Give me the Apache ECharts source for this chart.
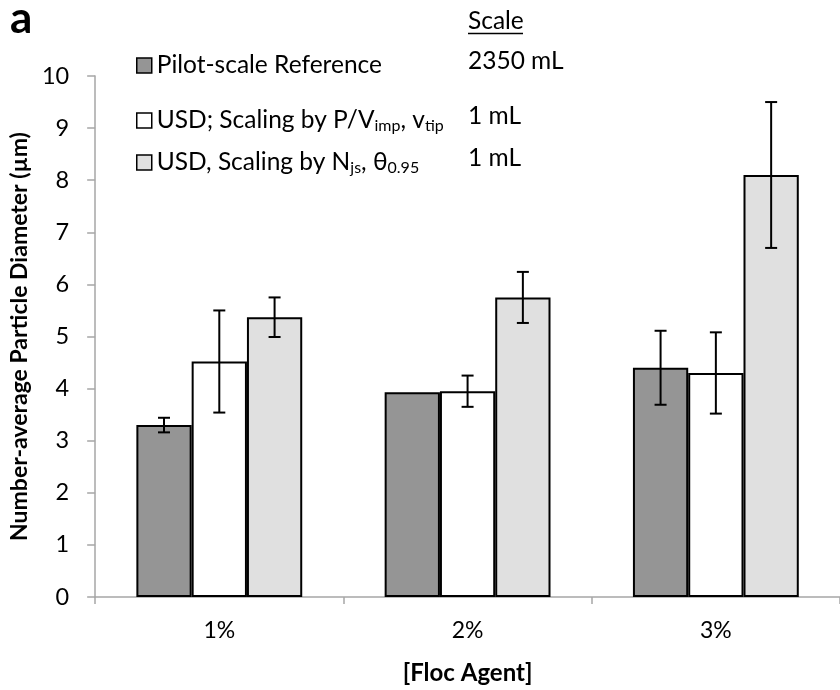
<!DOCTYPE html>
<html>
<head>
<meta charset="utf-8">
<script src="https://cdn.jsdelivr.net/npm/echarts@6/dist/echarts.min.js"></script>
<style>
  html, body { margin: 0; padding: 0; background: #fff; }
  #chart { width: 840px; height: 690px; }
</style>
</head>
<body>
<div id="chart"></div>
<script>
// Floc agent concentrations on the x axis
const categories = ['1%', '2%', '3%'];
const yTicks = [0, 1, 2, 3, 4, 5, 6, 7, 8, 9, 10];

// Number-average particle diameter (µm) and its error for each scale-down method
const pilotValues = [3.30, 3.93, 4.40];
const pilotErrors = [0.14, null, 0.71];
const pvValues = [4.52, 3.95, 4.30];
const pvErrors = [0.98, 0.30, 0.78];
const njsValues = [5.37, 5.75, 8.10];
const njsErrors = [0.38, 0.49, 1.40];

const seriesNames = ['Pilot-scale Reference', 'USD; Scaling by P/Vimp, vtip', 'USD, Scaling by Njs, θ0.95'];
const scaleLabels = ['2350 mL', '1 mL', '1 mL'];
const fillColors = ['#959595', '#ffffff', '#e0e0e0'];

const FONT = 'Lato, "Open Sans", sans-serif';
const CAT_GAP = 0.332;   // share of each category left empty around the group

const chart = echarts.init(document.getElementById('chart'));

// Error whiskers centred on each bar of a group
function errorSeries(values, errors, slot) {
  const data = values.map((v, i) => [i, v, errors[i]]);
  return {
    type: 'custom',
    silent: true,
    z: 5,
    data: data,
    encode: { x: 0, y: 1 },
    renderItem: function (params, api) {
      const err = api.value(2);
      if (err === null || err === undefined || isNaN(err)) return null;
      const idx = api.value(0);
      const val = api.value(1);
      const catW = api.size([1, 0])[0];
      const barW = catW * (1 - CAT_GAP) / 3;
      const top = api.coord([idx, val + err]);
      const bot = api.coord([idx, val - err]);
      const x = top[0] + (slot - 1) * barW;
      const cap = 6;
      const style = { stroke: '#000', lineWidth: 2 };
      return {
        type: 'group',
        children: [
          { type: 'line', shape: { x1: x, y1: top[1], x2: x, y2: bot[1] }, style: style },
          { type: 'line', shape: { x1: x - cap, y1: top[1], x2: x + cap, y2: top[1] }, style: style },
          { type: 'line', shape: { x1: x - cap, y1: bot[1], x2: x + cap, y2: bot[1] }, style: style }
        ]
      };
    }
  };
}

function barSeries(name, values, color) {
  return {
    name: name,
    type: 'bar',
    data: values,
    barGap: '0%',
    barCategoryGap: (CAT_GAP * 100) + '%',
    itemStyle: { color: color, borderColor: '#000', borderWidth: 2 },
    emphasis: { disabled: true }
  };
}

const legendRich = {
  n: { fontSize: 24.5, fontFamily: FONT, color: '#000' },
  s: { fontSize: 16, fontFamily: FONT, color: '#000', padding: [10, 0, 0, 0] }
};
const legendText = {
  'Pilot-scale Reference': '{n|Pilot-scale Reference}',
  'USD; Scaling by P/Vimp, vtip': '{n|USD; Scaling by P/V}{s|imp}{n|, v}{s|tip}',
  'USD, Scaling by Njs, θ0.95': '{n|USD, Scaling by N}{s|js}{n|, θ}{s|0.95}'
};
const legendTops = [48, 103, 145];

const legends = seriesNames.map((name, i) => ({
  data: [name],
  left: 131,
  top: legendTops[i],
  orient: 'vertical',
  icon: 'rect',
  itemWidth: 15,
  itemHeight: 15,
  itemGap: 0,
  selectedMode: false,
  itemStyle: { borderColor: '#000', borderWidth: 1.5 },
  textStyle: { rich: legendRich, padding: [0, 0, 0, 0] },
  formatter: function (n) { return legendText[n]; }
}));

const scaleTexts = [
  { type: 'text', left: 468, top: 9, style: { text: 'Scale', font: '24.5px ' + FONT, fill: '#000' } },
  { type: 'line', shape: { x1: 468, y1: 33.5, x2: 523, y2: 33.5 }, style: { stroke: '#000', lineWidth: 1.5 } }
].concat(scaleLabels.map((t, i) => ({
  type: 'text', left: 468, top: legendTops[i] + 1,
  style: { text: t, font: '24.5px ' + FONT, fill: '#000' }
})));

chart.setOption({
  animation: false,
  backgroundColor: '#fff',
  grid: { left: 90, top: 76, width: 759, height: 527 },
  legend: legends,
  graphic: [
    { type: 'text', left: 10, top: -3, style: { text: 'a', font: 'bold 44px ' + FONT, fill: '#000' } }
  ].concat(scaleTexts),
  xAxis: {
    type: 'category',
    data: categories,
    boundaryGap: true,
    name: '[Floc Agent]',
    nameLocation: 'middle',
    nameGap: 64,
    nameTextStyle: { fontFamily: FONT, fontWeight: 'bold', fontSize: 24, color: '#000' },
    axisLine: { lineStyle: { color: '#a6a6a6', width: 1.5 } },
    axisTick: { show: true, length: 7, lineStyle: { color: '#a6a6a6', width: 1.5 } },
    axisLabel: { fontFamily: FONT, fontSize: 23, color: '#000', margin: 22 },
    splitLine: { show: false }
  },
  yAxis: {
    type: 'value',
    min: yTicks[0],
    max: yTicks[yTicks.length - 1],
    interval: 1,
    name: 'Number-average Particle Diameter (µm)',
    nameLocation: 'middle',
    nameGap: 58,
    nameRotate: 90,
    nameTextStyle: { fontFamily: FONT, fontWeight: 'bold', fontSize: 23, color: '#000' },
    axisLine: { show: true, lineStyle: { color: '#a6a6a6', width: 1.5 } },
    axisTick: { show: true, length: 8, lineStyle: { color: '#a6a6a6', width: 1.5 } },
    axisLabel: { fontFamily: FONT, fontSize: 23.5, color: '#000', margin: 26 },
    splitLine: { show: false }
  },
  series: [
    barSeries(seriesNames[0], pilotValues, fillColors[0]),
    barSeries(seriesNames[1], pvValues, fillColors[1]),
    barSeries(seriesNames[2], njsValues, fillColors[2]),
    errorSeries(pilotValues, pilotErrors, 0),
    errorSeries(pvValues, pvErrors, 1),
    errorSeries(njsValues, njsErrors, 2)
  ]
});
</script>
</body>
</html>
